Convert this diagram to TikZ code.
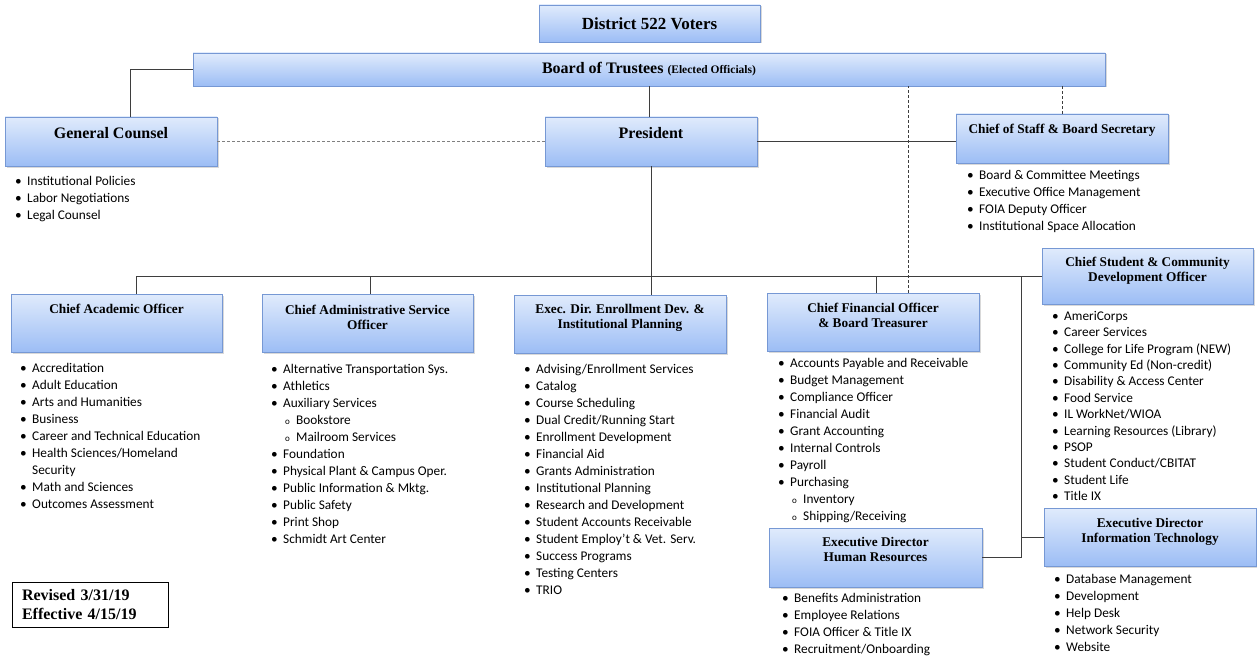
\documentclass[tikz,border=0pt]{standalone}
\usepackage{fontspec}
\setmainfont{Liberation Serif}
\newfontfamily\calibri{Carlito}
\usetikzlibrary{shadows}

\definecolor{boxtop}{RGB}{224,235,252}
\definecolor{boxbot}{RGB}{156,189,245}
\definecolor{boxrim}{RGB}{118,152,212}
\definecolor{linegray}{RGB}{62,62,62}

% one bullet line, one sub-bullet line
\newcommand{\itm}[1]{\makebox[12pt][l]{\textbullet}#1}
\newcommand{\subitm}[1]{\hspace*{14pt}\makebox[11pt][l]{\fontsize{9}{9}\selectfont o}#1}

\tikzset{
  unit/.style={draw=boxrim, line width=0.9pt, top color=boxtop, bottom color=boxbot,
    inner sep=0pt, minimum width=212pt, minimum height=58pt,
    drop shadow={shadow xshift=1.5pt, shadow yshift=-1.5pt, opacity=0.3}},
  head/.style={anchor=north, inner sep=0pt, align=center, font=\bfseries\fontsize{13.3}{15}\selectfont},
  duties/.style={anchor=north west, inner sep=0pt, align=left, font=\calibri\fontsize{13.3}{17}\selectfont},
  link/.style={draw=linegray, line width=0.9pt},
  liaison/.style={link, dash pattern=on 3pt off 2pt}
}

\begin{document}
\begin{tikzpicture}[x=1pt,y=-1pt]
\useasboundingbox (0,0) rectangle (1257,658);

% top of the chart
\node[unit, minimum width=221pt, minimum height=37pt, font=\bfseries\fontsize{17}{20}\selectfont] (voters) at (649.5,23.5) {District 522 Voters};
\node[unit, minimum width=912pt, minimum height=33pt, font=\bfseries\fontsize{16}{18}\selectfont] (board) at (649,69.5)
  {Board of Trustees {\fontsize{11.5}{12}\selectfont(Elected Officials)}};

\node[unit, minimum height=49pt] (gc) at (111,141.5) {};
\node[head, font=\bfseries\fontsize{16}{18}\selectfont] (gc-t) at ([yshift=-10.5pt]gc.north) {General Counsel};
\node[unit, minimum height=49pt] (pres) at (651,141.5) {};
\node[head, font=\bfseries\fontsize{16}{18}\selectfont] (pres-t) at ([yshift=-10.5pt]pres.north) {President};
\node[unit, minimum height=49pt] (cos) at (1062,138.5) {};
\node[head] (cos-t) at ([yshift=-10pt]cos.north) {Chief of Staff \& Board Secretary};

\node[duties] (gc-l) at (15,176) {\itm{Institutional Policies}\\\itm{Labor Negotiations}\\\itm{Legal Counsel}};
\node[duties] (cos-l) at (967,170) {\itm{Board \& Committee Meetings}\\\itm{Executive Office Management}\\
  \itm{FOIA Deputy Officer}\\\itm{Institutional Space Allocation}};

% the officers
\node[unit, minimum width=211pt] (cao) at (116.5,323) {};
\node[head] (cao-t) at ([yshift=-10pt]cao.north) {Chief Academic Officer};
\node[unit, minimum width=211pt] (admin) at (367.5,323.5) {};
\node[head] (admin-t) at ([yshift=-10.5pt]admin.north) {Chief Administrative Service\\Officer};
\node[unit] (enroll) at (620,324) {};
\node[head] (enroll-t) at ([yshift=-10pt]enroll.north) {Exec. Dir. Enrollment Dev. \&\\Institutional Planning};
\node[unit] (cfo) at (873,322) {};
\node[head] (cfo-t) at ([yshift=-10pt]cfo.north) {Chief Financial Officer\\\& Board Treasurer};
\node[unit, minimum width=211pt, minimum height=56pt] (csdo) at (1147.5,276) {};
\node[head] (csdo-t) at ([yshift=-9pt]csdo.north) {Chief Student \& Community\\Development Officer};
\node[unit, minimum width=213pt, minimum height=59pt] (hr) at (875.5,557.5) {};
\node[head] (hr-t) at ([yshift=-10pt]hr.north) {Executive Director\\Human Resources};
\node[unit] (it) at (1150,537) {};
\node[head] (it-t) at ([yshift=-10.5pt]it.north) {Executive Director\\Information Technology};

\node[duties] (cao-l) at (20,363) {\itm{Accreditation}\\\itm{Adult Education}\\\itm{Arts and Humanities}\\
  \itm{Business}\\\itm{Career and Technical Education}\\\itm{Health Sciences/Homeland}\\
  \hspace*{12pt}Security\\\itm{Math and Sciences}\\\itm{Outcomes Assessment}};
\node[duties] (admin-l) at (271,364) {\itm{Alternative Transportation Sys.}\\\itm{Athletics}\\
  \itm{Auxiliary Services}\\\subitm{Bookstore}\\\subitm{Mailroom Services}\\\itm{Foundation}\\
  \itm{Physical Plant \& Campus Oper.}\\\itm{Public Information \& Mktg.}\\\itm{Public Safety}\\
  \itm{Print Shop}\\\itm{Schmidt Art Center}};
\node[duties] (enroll-l) at (524,364) {\itm{Advising/Enrollment Services}\\\itm{Catalog}\\
  \itm{Course Scheduling}\\\itm{Dual Credit/Running Start}\\\itm{Enrollment Development}\\
  \itm{Financial Aid}\\\itm{Grants Administration}\\\itm{Institutional Planning}\\
  \itm{Research and Development}\\\itm{Student Accounts Receivable}\\
  \itm{Student Employ’t \& Vet. Serv.}\\\itm{Success Programs}\\\itm{Testing Centers}\\\itm{TRIO}};
\node[duties] (cfo-l) at (778,358) {\itm{Accounts Payable and Receivable}\\\itm{Budget Management}\\
  \itm{Compliance Officer}\\\itm{Financial Audit}\\\itm{Grant Accounting}\\\itm{Internal Controls}\\
  \itm{Payroll}\\\itm{Purchasing}\\\subitm{Inventory}\\\subitm{Shipping/Receiving}};
\node[duties, font=\calibri\fontsize{13.3}{16.4}\selectfont] (csdo-l) at (1052,311) {\itm{AmeriCorps}\\
  \itm{Career Services}\\\itm{College for Life Program (NEW)}\\\itm{Community Ed (Non-credit)}\\
  \itm{Disability \& Access Center}\\\itm{Food Service}\\\itm{IL WorkNet/WIOA}\\
  \itm{Learning Resources (Library)}\\\itm{PSOP}\\\itm{Student Conduct/CBITAT}\\
  \itm{Student Life}\\\itm{Title IX}};
\node[duties] (hr-l) at (782,593) {\itm{Benefits Administration}\\\itm{Employee Relations}\\
  \itm{FOIA Officer \& Title IX}\\\itm{Recruitment/Onboarding}};
\node[duties] (it-l) at (1054,574) {\itm{Database Management}\\\itm{Development}\\\itm{Help Desk}\\
  \itm{Network Security}\\\itm{Website}};

\node[draw=black, line width=0.8pt, minimum width=156pt, minimum height=45pt, inner xsep=10pt,
  text width=136pt, align=left, font=\bfseries\fontsize{16}{19}\selectfont] (rev) at (90,604.5)
  {Revised 3/31/19\\Effective 4/15/19};

% reporting lines
\draw[link] (board.west) -| ([xshift=19pt]gc.north);
\draw[link] (board.south) -- (board.south |- pres.north);
\draw[liaison, draw=gray] (gc.east) -- (pres.west);
\draw[link] (pres.east) -- (pres.east -| cos.west);
\draw[liaison] (cos.north) -- (cos.north |- board.south);
\coordinate (cfo-tap) at ([xshift=35pt]cfo.north);
\draw[liaison] (cfo-tap) -- (cfo-tap |- board.south);

\draw[link] (pres.south) -- (pres.south |- enroll.north);
\draw[link] ([xshift=19.5pt]cao.north) |- (csdo.west);
\draw[link] ([xshift=2.5pt]admin.north) -- ([xshift=2.5pt]admin.north |- csdo.west);
\draw[link] ([xshift=3pt]cfo.north) -- ([xshift=3pt]cfo.north |- csdo.west);
\coordinate (trunk) at ([xshift=-20pt]csdo.west);
\draw[link] (hr.east) -| (trunk);
\draw[link] (trunk |- it.west) -- (it.west);
\end{tikzpicture}
\end{document}
